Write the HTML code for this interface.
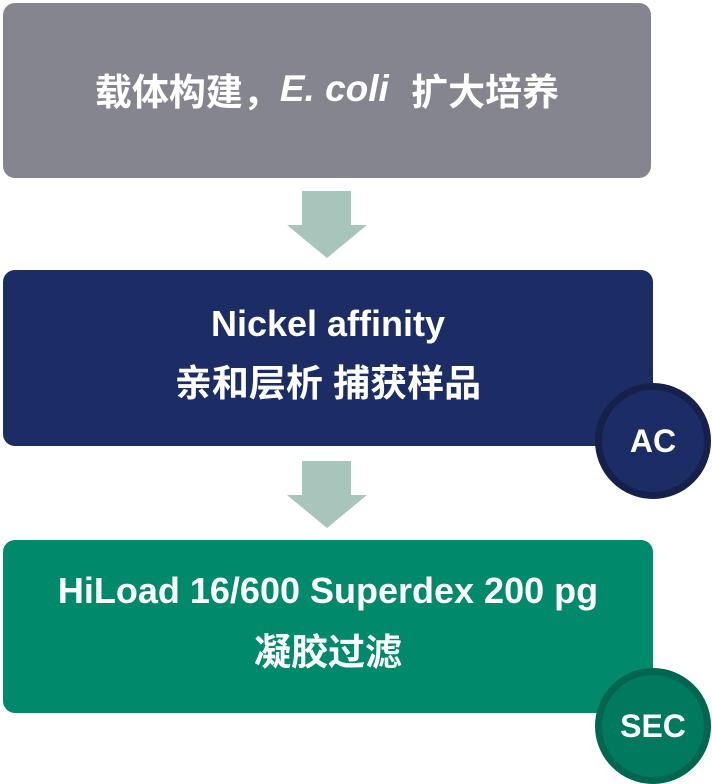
<!DOCTYPE html>
<html><head><meta charset="utf-8"><style>
body{margin:0;width:712px;height:784px;background:#fff;position:relative;overflow:hidden;font-family:"Liberation Sans","Noto Sans CJK SC",sans-serif;font-weight:bold;color:#fff}
.box{position:absolute;left:3px;width:648px;border-radius:12px;display:flex;flex-direction:column;align-items:center;justify-content:center;text-align:center;white-space:nowrap}
.c{position:absolute;width:102px;height:102px;border-radius:50%;border:7px solid;display:flex;align-items:center;justify-content:center;font-size:32px}
</style></head><body>
<div class="box" style="top:3px;height:175px;background:#85858f;font-size:37px;flex-direction:row;padding-bottom:4px;box-sizing:border-box">载体构建，<i style="margin-right:12px">E. coli</i>&nbsp;扩大培养</div>
<svg style="position:absolute;left:0;top:0" width="712" height="784">
<polygon points="302,191 351,191 351,225 367,225 327,258 287,225 302,225" fill="#a8c5bb"/>
<polygon points="302,461 351,461 351,495 367,495 327,528 287,495 302,495" fill="#a8c5bb"/>
</svg>
<div class="box" style="top:270px;height:176px;width:650px;background:#1c2d66;font-size:36px;line-height:60px;padding-bottom:8px;box-sizing:border-box"><div>Nickel affinity</div><div style="font-size:37px">亲和层析 捕获样品</div></div>
<div class="c" style="left:595px;top:383px;background:#1c2d66;border-color:#15214a">AC</div>
<div class="box" style="top:540px;height:173px;width:650px;background:#008a6b;font-size:36px;line-height:62px;padding-bottom:10px;box-sizing:border-box"><div>HiLoad 16/600 Superdex 200 pg</div><div style="font-size:37px">凝胶过滤</div></div>
<div class="c" style="left:595px;top:668px;background:#00795e;border-color:#006650">SEC</div>
</body></html>
